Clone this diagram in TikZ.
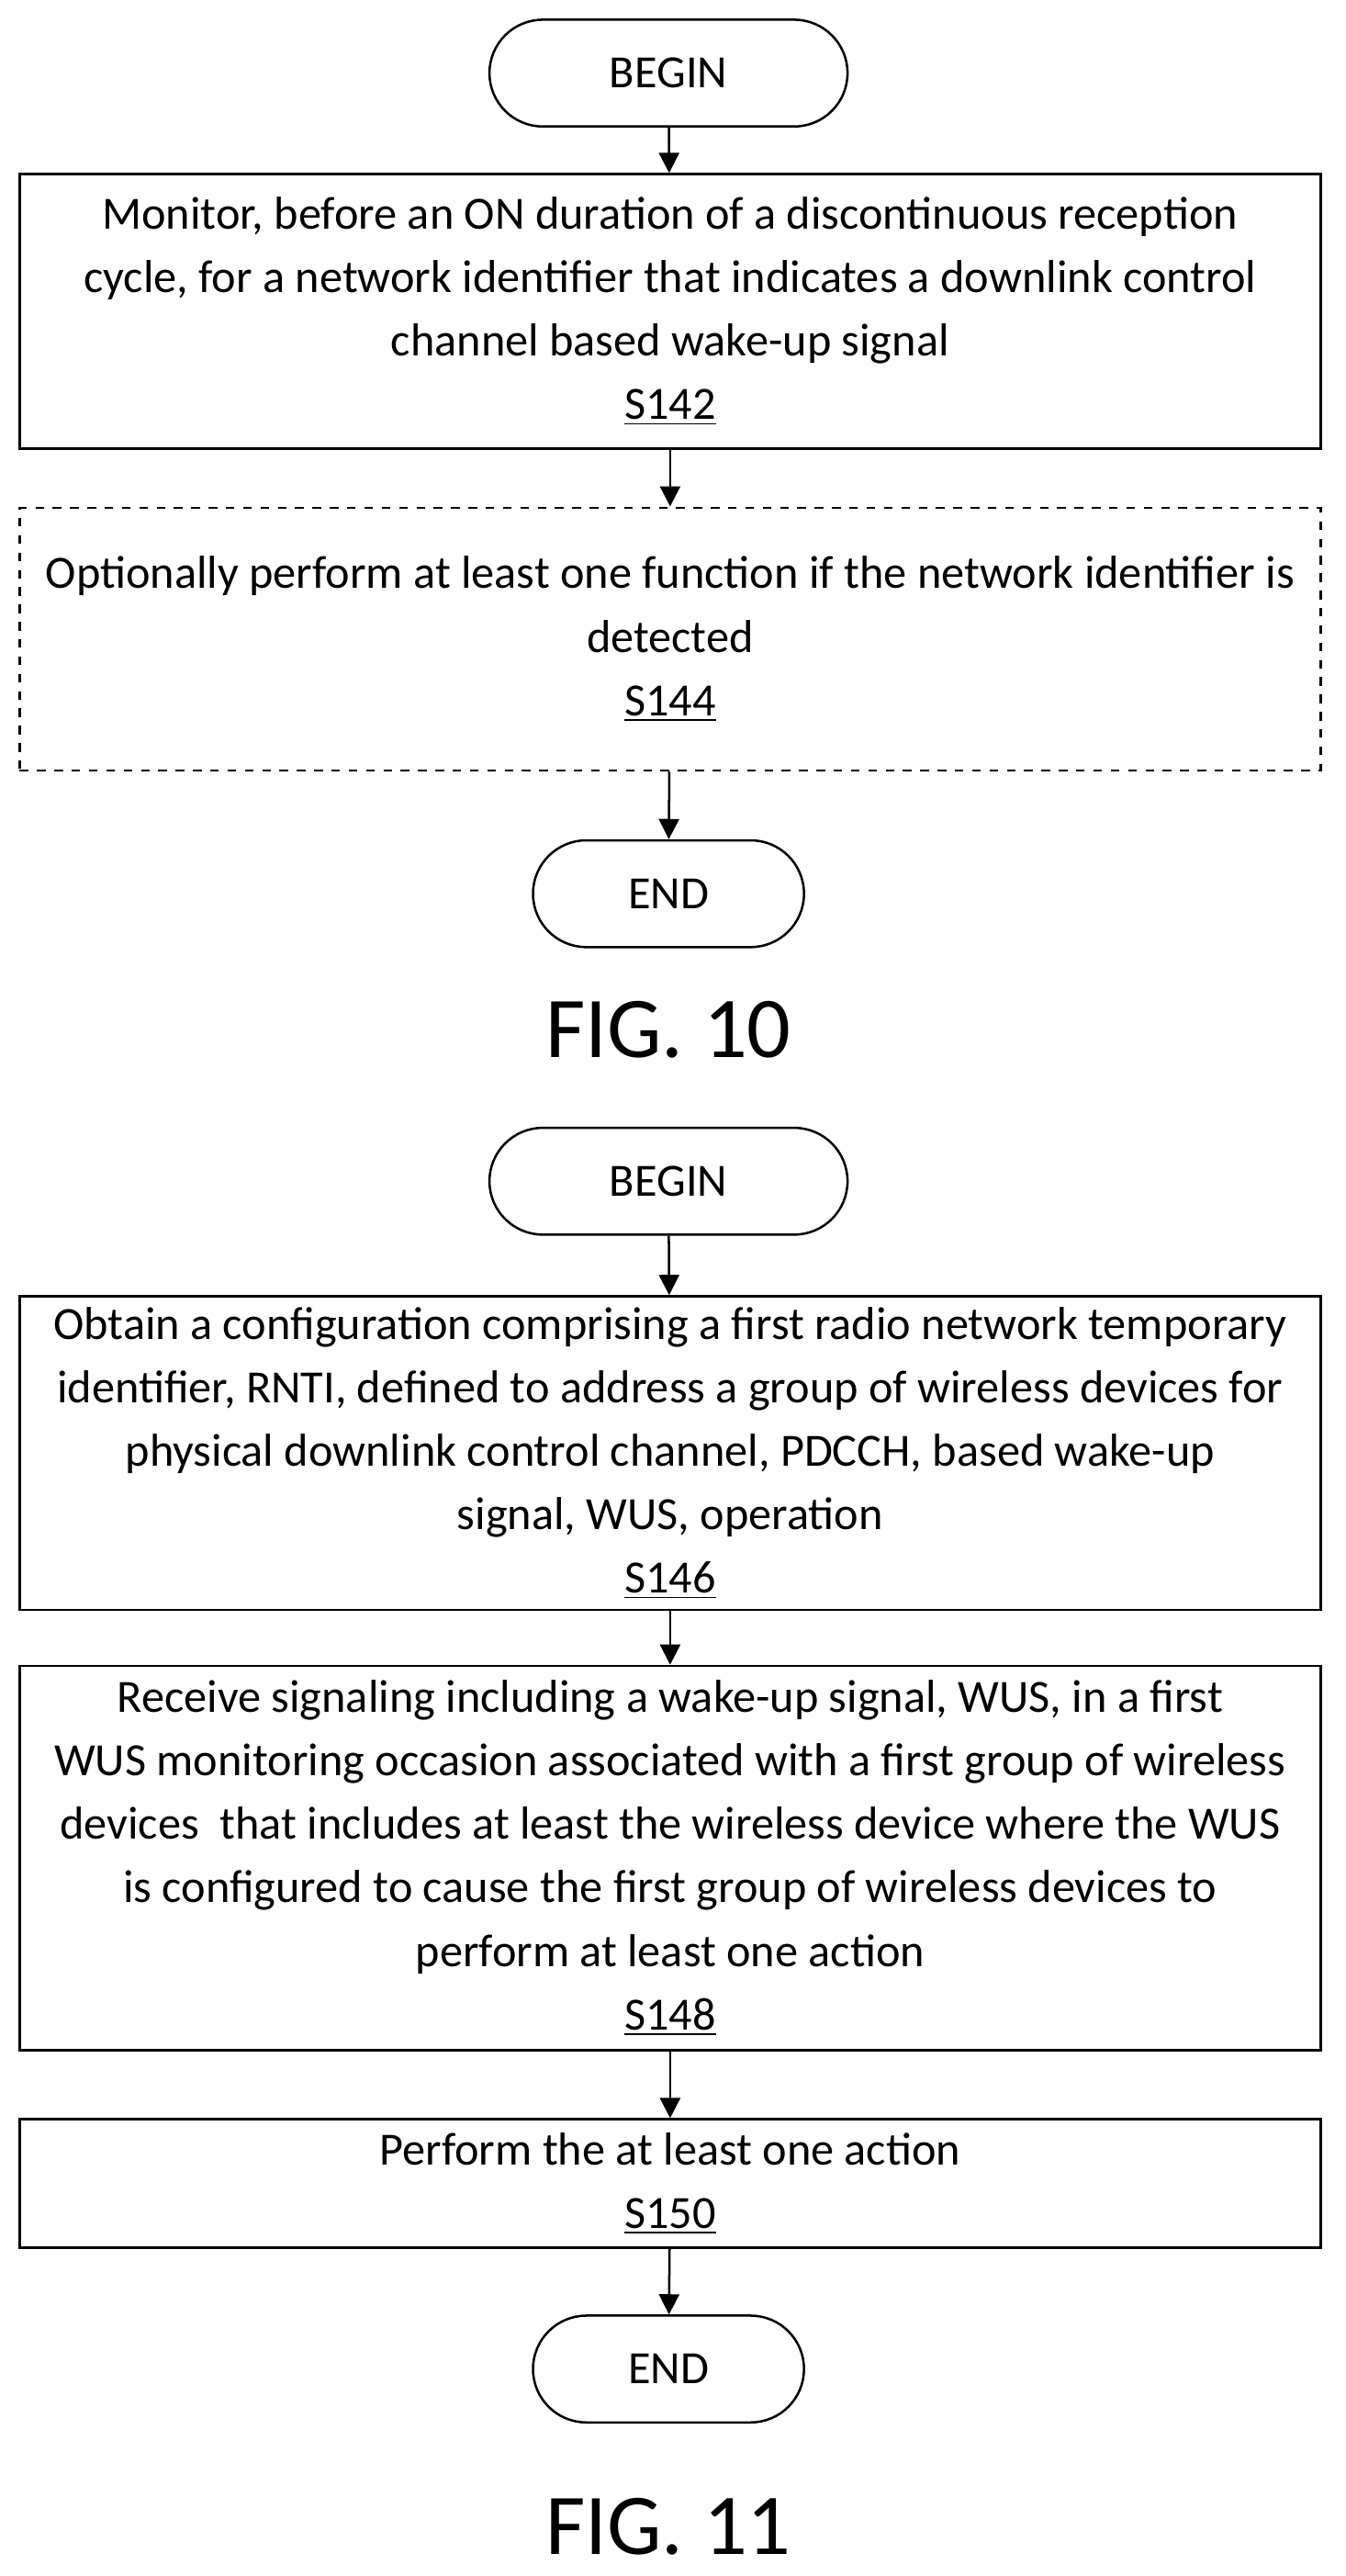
\documentclass[tikz,border=0pt]{standalone}
\usepackage{fontspec}
\setmainfont{Carlito}
\usetikzlibrary{arrows.meta, positioning}

\begin{document}
\begin{tikzpicture}[
        every node/.style={align=center, font=\fontsize{16}{22}\selectfont},
        terminal/.style={draw, thick, rounded corners=0.65cm, minimum height=1.3cm},
        stepbox/.style={draw, thick, minimum width=15.84cm},
        optional/.style={stepbox, dashed},
        caption/.style={font=\fontsize{30}{34}\selectfont},
        flow/.style={-{Triangle[length=7pt, width=7pt]}, thick}
    ]
    \useasboundingbox (0,0) rectangle (16.38,-31.36);

    % FIG. 10
    \node[terminal, minimum width=4.36cm] (Begin1) at (8.14,-0.89) {BEGIN};
    \node[stepbox, minimum height=3.34cm] (S142) at (8.16,-3.79) {Monitor, before an ON duration of a discontinuous reception\\cycle, for a network identifier that indicates a downlink control\\channel based wake-up signal\\\underline{S142}};
    \node[optional, minimum height=3.2cm] (S144) at (8.16,-7.78) {Optionally perform at least one function if the network identifier is\\detected\\\underline{S144}};
    \node[terminal, minimum width=3.3cm] (End1) at (8.14,-10.88) {END};
    \node[caption] (Fig10) at (8.14,-12.54) {FIG. 10};

    \draw[flow] (Begin1) -- (S142);
    \draw[flow] (S142) -- (S144);
    \draw[flow] (S144) -- (End1);

    % FIG. 11
    \node[terminal, minimum width=4.36cm] (Begin2) at (8.14,-14.38) {BEGIN};
    \node[stepbox, minimum height=3.82cm] (S146) at (8.16,-17.69) {Obtain a configuration comprising a first radio network temporary\\identifier, RNTI, defined to address a group of wireless devices for\\physical downlink control channel, PDCCH, based wake-up\\signal, WUS, operation\\\underline{S146}};
    \node[stepbox, minimum height=4.68cm] (S148) at (8.16,-22.62) {Receive signaling including a wake-up signal, WUS, in a first\\WUS monitoring occasion associated with a first group of wireless\\devices\ \ that includes at least the wireless device where the WUS\\is configured to cause the first group of wireless devices to\\perform at least one action\\\underline{S148}};
    \node[stepbox, minimum height=1.56cm] (S150) at (8.16,-26.58) {Perform the at least one action\\\underline{S150}};
    \node[terminal, minimum width=3.3cm] (End2) at (8.14,-28.84) {END};
    \node[caption] (Fig11) at (8.14,-30.76) {FIG. 11};

    \draw[flow] (Begin2) -- (S146);
    \draw[flow] (S146) -- (S148);
    \draw[flow] (S148) -- (S150);
    \draw[flow] (S150) -- (End2);
\end{tikzpicture}
\end{document}
